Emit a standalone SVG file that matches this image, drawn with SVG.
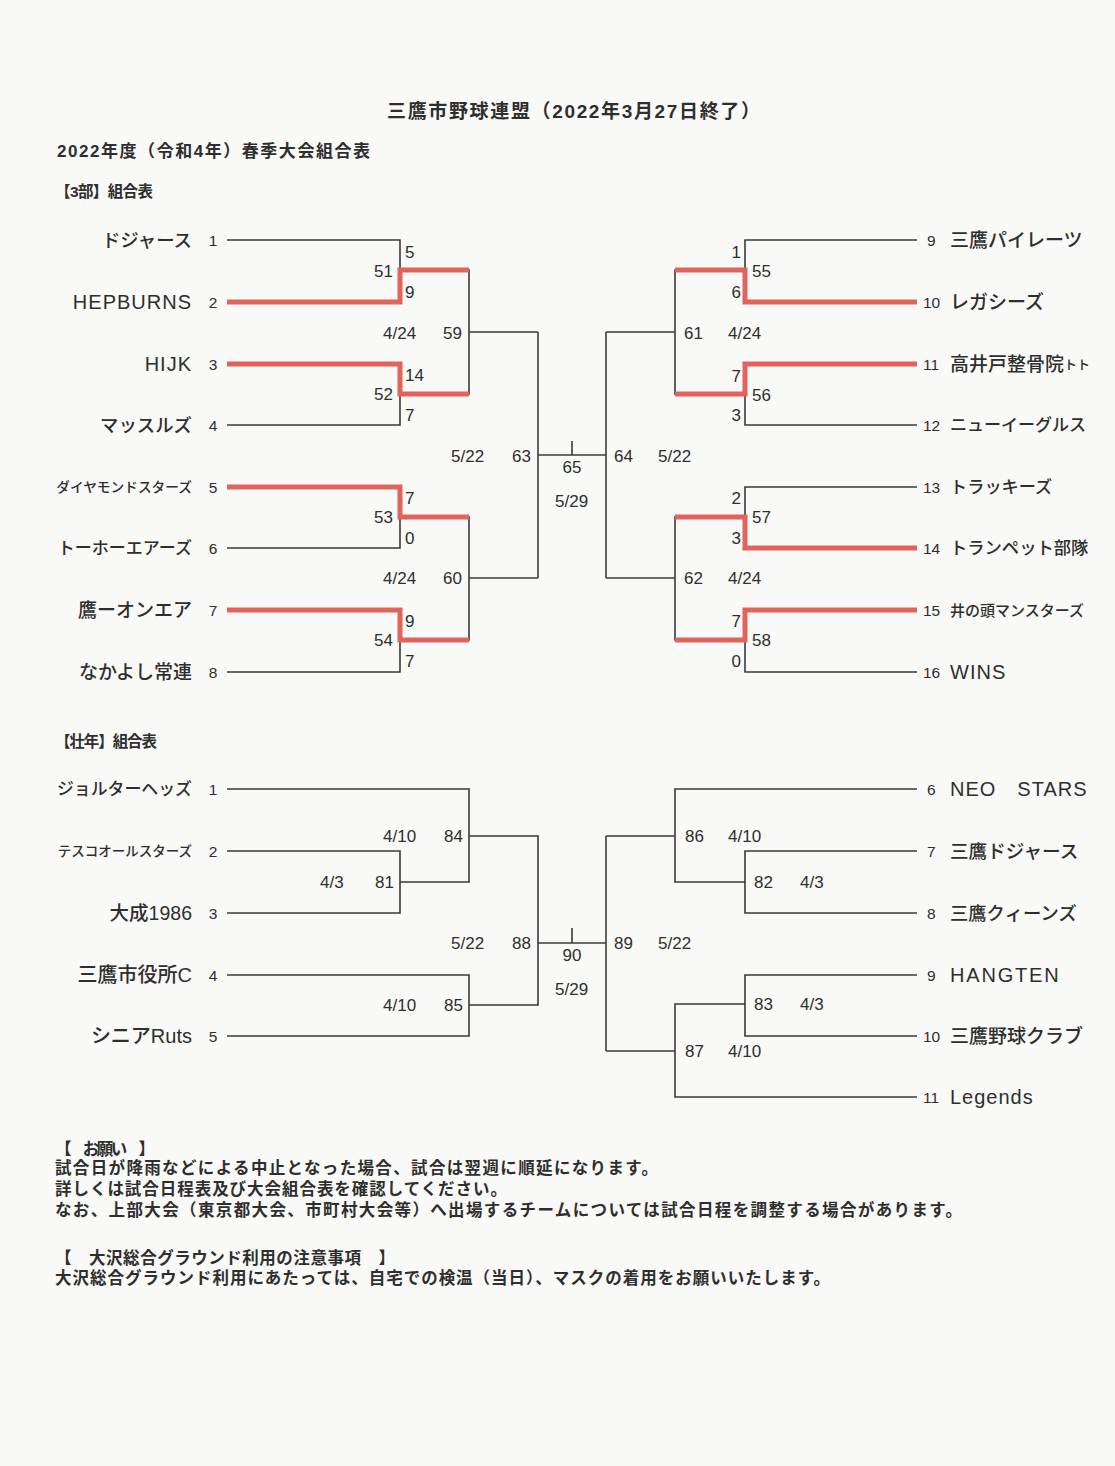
<svg xmlns="http://www.w3.org/2000/svg" width="1115" height="1466" viewBox="0 0 1115 1466">
<style>
.t{font-family:"Liberation Sans","Noto Sans CJK JP",sans-serif;fill:#2e2e2e;dominant-baseline:central}
.nm{font-size:19px;font-weight:500}
.lat{font-size:20px;letter-spacing:1px}
.no{font-size:15.5px}
.sc{font-size:17px}
.hd{font-weight:bold}
.e{text-anchor:end}
.m{text-anchor:middle}
.ln{stroke:#3a3a3a;stroke-width:1.6;fill:none}
.rd{stroke:#e2625c;stroke-width:5;fill:none;stroke-linejoin:miter}
</style>
<rect width="1115" height="1466" fill="#f9f9f7"/>

<g id="headers">
<text class="t hd" x="387" y="111" style="font-size:19px" textLength="373">三鷹市野球連盟（2022年3月27日終了）</text>
<text class="t hd" x="57" y="151" style="font-size:17px" textLength="313">2022年度（令和4年）春季大会組合表</text>
<text class="t hd" x="55" y="191" style="font-size:15.5px" textLength="98">【3部】組合表</text>
<text class="t hd" x="55" y="741" style="font-size:15.5px" textLength="102">【壮年】組合表</text>
</g>

<g id="connectors">
<!-- 3部 left -->
<path class="ln" d="M227,240 H400 V302 H227"/>
<path class="ln" d="M227,364 H400 V425 H227"/>
<path class="ln" d="M400,270 H469 V394 H400"/>
<path class="ln" d="M469,332 H538"/>
<path class="ln" d="M227,487 H400 V548 H227"/>
<path class="ln" d="M227,610 H400 V672 H227"/>
<path class="ln" d="M400,517 H469 V640 H400"/>
<path class="ln" d="M469,578 H538"/>
<path class="ln" d="M538,332 V578"/>
<path class="ln" d="M538,455 H606"/>
<path class="ln" d="M572,441 V455"/>
<!-- 3部 right -->
<path class="ln" d="M606,332 V578"/>
<path class="ln" d="M606,332 H675"/>
<path class="ln" d="M606,578 H675"/>
<path class="ln" d="M917,240 H745 V302 H917"/>
<path class="ln" d="M917,364 H745 V425 H917"/>
<path class="ln" d="M745,270 H675 V394 H745"/>
<path class="ln" d="M917,487 H745 V548 H917"/>
<path class="ln" d="M917,610 H745 V672 H917"/>
<path class="ln" d="M745,517 H675 V640 H745"/>
<!-- winners (red) -->
<path class="rd" d="M227,302 H400 V270 H469"/>
<path class="rd" d="M227,364 H400 V394 H469"/>
<path class="rd" d="M227,487 H400 V517 H469"/>
<path class="rd" d="M227,610 H400 V640 H469"/>
<path class="rd" d="M917,302 H745 V270 H675"/>
<path class="rd" d="M917,364 H745 V394 H675"/>
<path class="rd" d="M917,548 H745 V517 H675"/>
<path class="rd" d="M917,610 H745 V640 H675"/>
<!-- 壮年 left -->
<path class="ln" d="M227,789 H469 V882 H400"/>
<path class="ln" d="M227,851 H400 V913 H227"/>
<path class="ln" d="M469,836 H538 V1005 H469"/>
<path class="ln" d="M227,975 H469 V1036 H227"/>
<path class="ln" d="M538,943 H606"/>
<path class="ln" d="M572,928 V943"/>
<!-- 壮年 right -->
<path class="ln" d="M606,836 V1051"/>
<path class="ln" d="M606,836 H675"/>
<path class="ln" d="M606,1051 H675"/>
<path class="ln" d="M917,789 H675 V882 H745"/>
<path class="ln" d="M917,851 H745 V913 H917"/>
<path class="ln" d="M917,975 H745 V1036 H917"/>
<path class="ln" d="M745,1004 H675 V1097 H917"/>
</g>

<!-- 3部 teams -->
<g id="t3-1"><text class="t nm e" x="192" y="240" style="font-size:18.4px">ドジャース</text><text class="t no m" x="213" y="240">1</text></g>
<g id="t3-2"><text class="t lat e" x="192" y="302">HEPBURNS</text><text class="t no m" x="213" y="302">2</text></g>
<g id="t3-3"><text class="t lat e" x="192" y="364">HIJK</text><text class="t no m" x="213" y="364">3</text></g>
<g id="t3-4"><text class="t nm e" x="192" y="425" style="font-size:18.4px">マッスルズ</text><text class="t no m" x="213" y="425">4</text></g>
<g id="t3-5"><text class="t nm e" x="192" y="487" style="font-size:13.7px">ダイヤモンドスターズ</text><text class="t no m" x="213" y="487">5</text></g>
<g id="t3-6"><text class="t nm e" x="192" y="548" style="font-size:17px">トーホーエアーズ</text><text class="t no m" x="213" y="548">6</text></g>
<g id="t3-7"><text class="t nm e" x="192" y="610">鷹ーオンエア</text><text class="t no m" x="213" y="610">7</text></g>
<g id="t3-8"><text class="t nm e" x="192" y="672">なかよし常連</text><text class="t no m" x="213" y="672">8</text></g>
<g id="t3-9"><text class="t no" x="927" y="240">9</text><text class="t nm" x="950" y="240">三鷹パイレーツ</text></g>
<g id="t3-10"><text class="t no" x="923" y="302">10</text><text class="t nm" x="950" y="302">レガシーズ</text></g>
<g id="t3-11"><text class="t no" x="923" y="364">11</text><text class="t nm" x="950" y="364">高井戸整骨院<tspan style="font-size:13px">トト</tspan></text></g>
<g id="t3-12"><text class="t no" x="923" y="425">12</text><text class="t nm" x="950" y="425" style="font-size:17px">ニューイーグルス</text></g>
<g id="t3-13"><text class="t no" x="923" y="487">13</text><text class="t nm" x="950" y="487" style="font-size:17.2px">トラッキーズ</text></g>
<g id="t3-14"><text class="t no" x="923" y="548">14</text><text class="t nm" x="950" y="548" style="font-size:17.3px">トランペット部隊</text></g>
<g id="t3-15"><text class="t no" x="923" y="610">15</text><text class="t nm" x="950" y="610" style="font-size:15px">井の頭マンスターズ</text></g>
<g id="t3-16"><text class="t no" x="923" y="672">16</text><text class="t lat" x="950" y="672">WINS</text></g>

<!-- 3部 match labels -->
<g id="m51"><text class="t sc" x="405" y="252">5</text><text class="t sc e" x="393" y="271">51</text><text class="t sc" x="405" y="292">9</text></g>
<g id="m52"><text class="t sc" x="405" y="375">14</text><text class="t sc e" x="393" y="394">52</text><text class="t sc" x="405" y="415">7</text></g>
<g id="m59"><text class="t sc" x="383" y="333">4/24</text><text class="t sc" x="443" y="333">59</text></g>
<g id="m53"><text class="t sc" x="405" y="498">7</text><text class="t sc e" x="393" y="517">53</text><text class="t sc" x="405" y="538">0</text></g>
<g id="m54"><text class="t sc" x="405" y="621">9</text><text class="t sc e" x="393" y="640">54</text><text class="t sc" x="405" y="661">7</text></g>
<g id="m60"><text class="t sc" x="383" y="578">4/24</text><text class="t sc" x="443" y="578">60</text></g>
<g id="m63"><text class="t sc" x="451" y="456">5/22</text><text class="t sc" x="512" y="456">63</text></g>
<g id="m65"><text class="t sc m" x="572" y="467">65</text><text class="t sc" x="555" y="501">5/29</text></g>
<g id="m64"><text class="t sc" x="614" y="456">64</text><text class="t sc" x="658" y="456">5/22</text></g>
<g id="m55"><text class="t sc e" x="741" y="252">1</text><text class="t sc" x="752" y="271">55</text><text class="t sc e" x="741" y="292">6</text></g>
<g id="m61"><text class="t sc" x="684" y="333">61</text><text class="t sc" x="728" y="333">4/24</text></g>
<g id="m56"><text class="t sc e" x="741" y="376">7</text><text class="t sc" x="752" y="395">56</text><text class="t sc e" x="741" y="415">3</text></g>
<g id="m57"><text class="t sc e" x="741" y="498">2</text><text class="t sc" x="752" y="517">57</text><text class="t sc e" x="741" y="538">3</text></g>
<g id="m62"><text class="t sc" x="684" y="578">62</text><text class="t sc" x="728" y="578">4/24</text></g>
<g id="m58"><text class="t sc e" x="741" y="621">7</text><text class="t sc" x="752" y="640">58</text><text class="t sc e" x="741" y="661">0</text></g>

<!-- 壮年 teams -->
<g id="ts-1"><text class="t nm e" x="192" y="789" style="font-size:16.9px">ジョルターヘッズ</text><text class="t no m" x="213" y="789">1</text></g>
<g id="ts-2"><text class="t nm e" x="192" y="851" style="font-size:13.5px">テスコオールスターズ</text><text class="t no m" x="213" y="851">2</text></g>
<g id="ts-3"><text class="t nm e" x="192" y="913" style="font-size:19.5px">大成1986</text><text class="t no m" x="213" y="913">3</text></g>
<g id="ts-4"><text class="t nm e" x="192" y="975" style="font-size:20px">三鷹市役所C</text><text class="t no m" x="213" y="975">4</text></g>
<g id="ts-5"><text class="t nm e" x="192" y="1036" style="font-size:20px">シニアRuts</text><text class="t no m" x="213" y="1036">5</text></g>
<g id="ts-6"><text class="t no" x="927" y="789">6</text><text class="t lat" x="950" y="789">NEO　STARS</text></g>
<g id="ts-7"><text class="t no" x="927" y="851">7</text><text class="t nm" x="950" y="851" style="font-size:18.6px">三鷹ドジャース</text></g>
<g id="ts-8"><text class="t no" x="927" y="913">8</text><text class="t nm" x="950" y="913" style="font-size:18.3px">三鷹クィーンズ</text></g>
<g id="ts-9"><text class="t no" x="927" y="975">9</text><text class="t lat" x="950" y="975" style="letter-spacing:1.8px">HANGTEN</text></g>
<g id="ts-10"><text class="t no" x="923" y="1036">10</text><text class="t nm" x="950" y="1036">三鷹野球クラブ</text></g>
<g id="ts-11"><text class="t no" x="923" y="1097">11</text><text class="t lat" x="950" y="1097">Legends</text></g>

<!-- 壮年 match labels -->
<g id="m84"><text class="t sc" x="383" y="836">4/10</text><text class="t sc" x="444" y="836">84</text></g>
<g id="m81"><text class="t sc" x="320" y="882">4/3</text><text class="t sc" x="375" y="882">81</text></g>
<g id="m88"><text class="t sc" x="451" y="943">5/22</text><text class="t sc" x="512" y="943">88</text></g>
<g id="m90"><text class="t sc m" x="572" y="955">90</text><text class="t sc" x="555" y="989">5/29</text></g>
<g id="m85"><text class="t sc" x="383" y="1005">4/10</text><text class="t sc" x="444" y="1005">85</text></g>
<g id="m86"><text class="t sc" x="685" y="836">86</text><text class="t sc" x="728" y="836">4/10</text></g>
<g id="m82"><text class="t sc" x="754" y="882">82</text><text class="t sc" x="800" y="882">4/3</text></g>
<g id="m89"><text class="t sc" x="614" y="943">89</text><text class="t sc" x="658" y="943">5/22</text></g>
<g id="m83"><text class="t sc" x="754" y="1004">83</text><text class="t sc" x="800" y="1004">4/3</text></g>
<g id="m87"><text class="t sc" x="685" y="1051">87</text><text class="t sc" x="728" y="1051">4/10</text></g>

<g id="notes">
<text class="t hd" x="55" y="1149" style="font-size:16.5px" textLength="100">【　お願い　】</text>
<text class="t hd" x="55" y="1168" style="font-size:16.5px" textLength="603">試合日が降雨などによる中止となった場合、試合は翌週に順延になります。</text>
<text class="t hd" x="55" y="1189" style="font-size:16.5px" textLength="452">詳しくは試合日程表及び大会組合表を確認してください。</text>
<text class="t hd" x="55" y="1210" style="font-size:16.5px" textLength="907">なお、上部大会（東京都大会、市町村大会等）へ出場するチームについては試合日程を調整する場合があります。</text>
<text class="t hd" x="55" y="1258" style="font-size:16.5px" textLength="340">【　大沢総合グラウンド利用の注意事項　】</text>
<text class="t hd" x="55" y="1278" style="font-size:16.5px" textLength="775">大沢総合グラウンド利用にあたっては、自宅での検温（当日）、マスクの着用をお願いいたします。</text>
</g>
</svg>
